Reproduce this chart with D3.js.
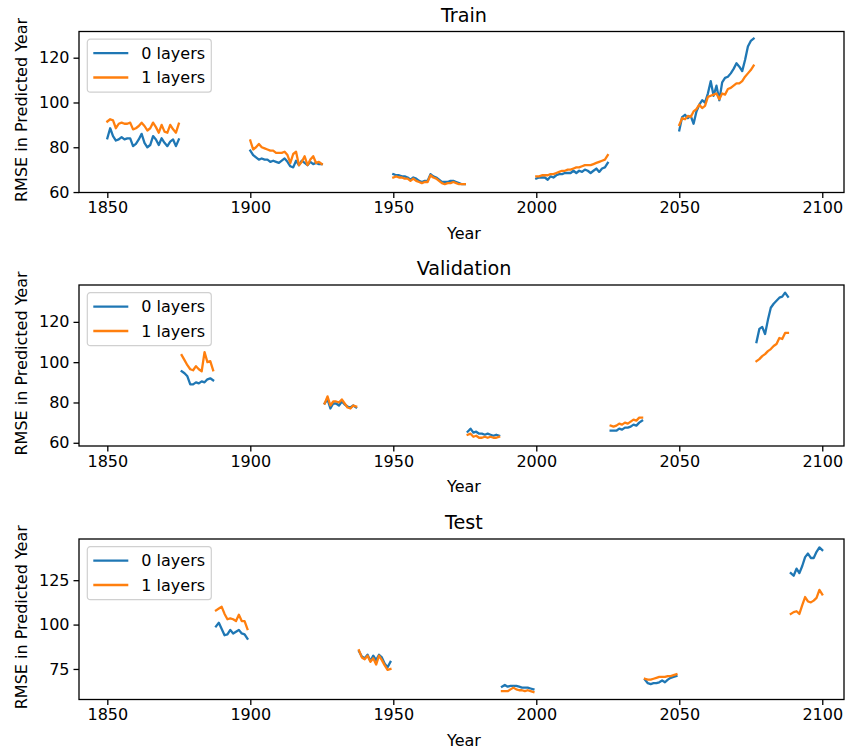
<!DOCTYPE html>
<html>
<head>
<meta charset="utf-8">
<script src="https://cdn.jsdelivr.net/npm/d3@7"></script>
<style>
  html, body { margin: 0; padding: 0; background: #fff; }
  svg { display: block; font-family: "DejaVu Sans", sans-serif; }
</style>
</head>
<body>
<svg id="chart" width="845" height="750"></svg>
<script>
// ---------------- DATA ----------------
const seriesNames = ["0 layers", "1 layers"];
const xTicks = [1850, 1900, 1950, 2000, 2050, 2100];

// Train
const trainStarts = [1850, 1900, 1950, 2000, 2050];
const train0 = [
  [84, 88.5, 85, 83, 83.5, 84.5, 83.5, 84, 84, 80.5, 81.5, 83.5, 86, 82, 80, 81, 85, 83.5, 81, 84, 82, 80.5, 82.5, 83.5, 80.5, 83.5],
  [78.5, 76.5, 75.5, 74.5, 75, 74.5, 74.5, 73.5, 74, 73.5, 73, 74, 75, 73.5, 71.5, 71, 74, 72, 74, 73, 72, 73.5, 72.5, 73, 72.5, 72.5],
  [68, 67.5, 67.5, 67, 67, 66.5, 65.5, 66.5, 66, 65, 64.5, 65, 65, 68, 67, 66.5, 65.5, 64.5, 64.5, 64.5, 65, 65, 64.5, 64, 63.5, 63.5],
  [66, 66.5, 66.5, 66.5, 65.5, 67, 66.5, 67.5, 68, 68, 68.5, 68.5, 68.5, 69.5, 68.5, 69.5, 69, 70, 69.5, 68.5, 69.5, 70.5, 69, 70.5, 71, 73],
  [87.5, 93.5, 94.5, 93, 94, 90.5, 96, 99, 101, 100, 104, 109.5, 103, 107.5, 101, 109, 111, 111.5, 113, 115, 117.5, 116, 114, 119, 125, 127.5, 128.5]
];
const train1 = [
  [91.5, 92.5, 92, 88.5, 90.5, 91, 90.5, 90.5, 91, 88, 88.5, 89.5, 91, 89.5, 87.5, 88.5, 91, 89, 86.5, 90, 87, 86.5, 90, 88, 86.5, 90.5],
  [83, 79, 80, 81.5, 80, 79.5, 79, 78.5, 78.5, 77.5, 77.5, 77.5, 78, 76.5, 73, 77, 78, 72, 73.5, 76, 72, 74.5, 76, 73, 73.5, 72.5],
  [66.5, 67, 66.5, 66.5, 66, 66, 65, 66, 65, 64.5, 64, 64.5, 64.5, 67.5, 66.5, 66, 65, 64, 63.5, 64, 64, 64.5, 64, 63.5, 63.5, 63.5],
  [67, 67, 67.5, 67.5, 67.5, 68, 68, 68.5, 69, 69.5, 69.5, 70, 70, 70.5, 71, 71, 71.5, 72, 72, 72, 72.5, 73, 73.5, 74, 74.5, 76.5],
  [90, 93, 92.5, 94, 93.5, 96, 97, 99, 97.5, 98.5, 102.5, 103, 103.5, 104, 101.5, 104, 103.5, 106, 106.5, 107.5, 108.5, 108.5, 109.5, 111.5, 113, 114.5, 116.5]
];

// Validation
const valStarts = [1876, 1926, 1976, 2026, 2077];
const val0 = [
  [95.5, 94.5, 93, 89, 89, 90, 89.5, 90.5, 90, 91.5, 92, 91],
  [79.5, 81.5, 77, 79.5, 79.5, 78.5, 80.5, 79, 78, 77.5, 78.5, 77.5],
  [65.5, 67, 65, 65.5, 64.5, 64.5, 64, 64.5, 64, 63.5, 64, 63.5],
  [66, 66, 66, 67, 66.5, 67.5, 67.5, 68, 69, 68.5, 70, 71],
  [110, 116.5, 117.5, 114, 121, 127, 129, 130.5, 132, 132.5, 134.5, 132.5]
];
const val1 = [
  [103.5, 101, 98.5, 96.5, 96, 98, 96.5, 95.5, 105, 100, 100.5, 96],
  [79.5, 83, 78.5, 80.5, 80.5, 80, 81.5, 79.5, 77.5, 77, 78.5, 78],
  [64, 64.5, 63, 63.5, 62.5, 62.5, 63, 62.5, 63, 62.5, 62.5, 63],
  [68.5, 68, 68.5, 69.5, 69, 70, 69.5, 70.5, 71.5, 71, 72.5, 72.5],
  [100.5, 101.5, 103, 104, 105.5, 106.5, 108, 109, 112, 111.5, 114.5, 114.5]
];

// Test
const testStarts = [1888, 1938, 1988, 2038, 2089];
const test0 = [
  [99, 101, 97.5, 94, 94.5, 97, 95, 96, 97, 95, 94.5, 92],
  [85, 82, 81, 83, 79.5, 82.5, 80, 83, 81.5, 78, 76, 79],
  [65, 66, 65, 65.5, 65.5, 65.5, 65, 64.5, 64.5, 64.5, 64, 63.5],
  [69, 67, 66.5, 67, 67, 67.5, 68.5, 67.5, 69, 70, 70.5, 71],
  [129, 127.5, 131.5, 129, 133, 138, 140, 137.5, 137.5, 141, 143.5, 142]
];
const test1 = [
  [108, 109, 110, 106, 103, 103.5, 103, 102, 105.5, 102, 102, 97.5],
  [85.5, 81.5, 80.5, 82.5, 79, 81, 77.5, 82.5, 80, 77, 74.5, 75],
  [62.5, 62.5, 62.5, 63.5, 64.5, 63.5, 63, 63, 62.5, 63, 62.5, 62],
  [69.5, 69, 69, 69.5, 70, 70.5, 70.5, 70.5, 71, 71, 71.5, 72],
  [106, 107, 107.5, 106, 111, 115.5, 113, 112.5, 113.5, 115, 119.5, 117]
];

const yTicksTrain = [60, 80, 100, 120];
const yTicksVal = [60, 80, 100, 120];
const yTicksTest = [75, 100, 125];

// ---------------- LAYOUT ----------------
const colors = ["#1f77b4", "#ff7f0e"];
const svg = d3.select("#chart");
const left = 79, right = 844;
const textCenter = 464;
const x = d3.scaleLinear().domain([1840.1, 2107.6]).range([left, right]);

const panels = [
  { title: "Train", top: 31.5, bottom: 192.5, ydom: [59.8, 131.7], starts: trainStarts, s0: train0, s1: train1, yt: yTicksTrain },
  { title: "Validation", top: 285, bottom: 446, ydom: [58.4, 138.3], starts: valStarts, s0: val0, s1: val1, yt: yTicksVal },
  { title: "Test", top: 539, bottom: 699.5, ydom: [57.8, 148.2], starts: testStarts, s0: test0, s1: test1, yt: yTicksTest }
];

panels.forEach(p => {
  const y = d3.scaleLinear().domain(p.ydom).range([p.bottom, p.top]);
  const g = svg.append("g");

  // lines
  const line = d3.line().x(d => x(d.yr)).y(d => y(d.v));
  [p.s0, p.s1].forEach((ser, si) => {
    ser.forEach((seg, k) => {
      const pts = seg.map((v, i) => ({ yr: p.starts[k] + i, v }));
      g.append("path").attr("d", line(pts))
        .attr("fill", "none").attr("stroke", colors[si])
        .attr("stroke-width", 2.3).attr("stroke-linejoin", "round").attr("stroke-linecap", "square");
    });
  });

  // axes
  const xa = d3.axisBottom(x).tickValues(xTicks).tickFormat(d3.format("d")).tickSize(5.5).tickPadding(4);
  const gx = g.append("g").attr("transform", `translate(0,${p.bottom})`).call(xa);
  const ya = d3.axisLeft(y).tickValues(p.yt).tickFormat(d3.format("d")).tickSize(5.5).tickPadding(4);
  const gy = g.append("g").attr("transform", `translate(${left},0)`).call(ya);
  [gx, gy].forEach(a => {
    a.select(".domain").remove();
    a.selectAll(".tick line").attr("stroke", "#000").attr("stroke-width", 1.3);
    a.selectAll(".tick text").attr("font-size", 16).attr("fill", "#000").attr("font-family", "DejaVu Sans");
  });

  // frame
  g.append("rect").attr("x", left).attr("y", p.top).attr("width", right - left).attr("height", p.bottom - p.top)
    .attr("fill", "none").attr("stroke", "#000").attr("stroke-width", 1.3);

  // title
  g.append("text").attr("x", textCenter).attr("y", p.top - 10)
    .attr("text-anchor", "middle").attr("font-size", 19.2).text(p.title);
  // x label
  g.append("text").attr("x", textCenter).attr("y", p.bottom + 46)
    .attr("text-anchor", "middle").attr("font-size", 16).text("Year");
  // y label
  g.append("text").attr("transform", `translate(27,${(p.top + p.bottom) / 2 - 2}) rotate(-90)`)
    .attr("text-anchor", "middle").attr("font-size", 16).text("RMSE in Predicted Year");

  // legend
  const lg = g.append("g").attr("transform", `translate(${left + 8.3},${p.top + 7.7})`);
  lg.append("rect").attr("width", 124).attr("height", 53).attr("rx", 3)
    .attr("fill", "#fff").attr("fill-opacity", 0.8).attr("stroke", "#d0d0d0").attr("stroke-width", 1.2);
  seriesNames.forEach((n, i) => {
    const yy = 14 + i * 24.3;
    lg.append("line").attr("x1", 6).attr("x2", 41).attr("y1", yy).attr("y2", yy)
      .attr("stroke", colors[i]).attr("stroke-width", 2.3);
    lg.append("text").attr("x", 54).attr("y", yy + 5.8).attr("font-size", 16).text(n);
  });
});
</script>
</body>
</html>
